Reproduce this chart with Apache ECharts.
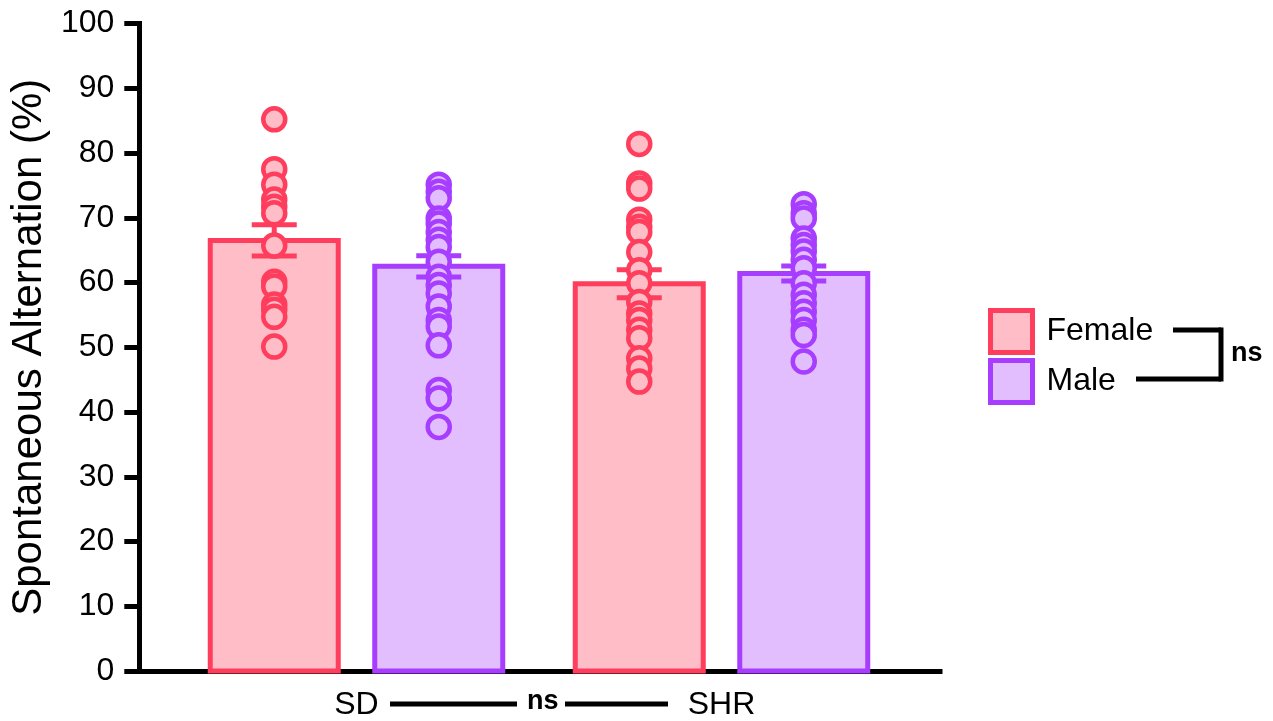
<!DOCTYPE html>
<html><head><meta charset="utf-8">
<script src="https://cdn.jsdelivr.net/npm/echarts@6/dist/echarts.min.js"></script>
<style>html,body{margin:0;padding:0;background:#fff}#c{width:1273px;height:721px}</style>
</head><body><div id="c"></div>
<script>
// ---- data ----
const categories = ['SD', 'SHR'];
const yTicks = [0, 10, 20, 30, 40, 50, 60, 70, 80, 90, 100];
const femaleMean = [66.5, 59.8];
const femaleSEM = [2.4, 2.15];
const maleMean = [62.5, 61.4];
const maleSEM = [1.65, 1.15];
const femaleSDPoints = [85.2, 77.5, 75.1, 72.8, 71.7, 70.7, 65.7, 60.1, 59.4, 56.6, 55.8, 54.7, 50.1];
const maleSDPoints = [75.1, 74.0, 73.0, 69.9, 69.1, 67.8, 66.6, 65.5, 63.2, 60.9, 59.6, 58.3, 56.3, 54.2, 53.2, 50.3, 43.4, 42.1, 37.7];
const femaleSHRPoints = [81.4, 75.3, 74.5, 69.7, 68.6, 67.8, 64.7, 61.9, 59.9, 57.0, 55.2, 54.2, 52.7, 51.4, 48.3, 46.7, 44.7];
const maleSHRPoints = [72.1, 70.7, 69.9, 66.8, 65.8, 64.8, 63.5, 62.2, 59.9, 58.1, 56.8, 55.5, 54.2, 52.7, 51.9, 47.8];

// ---- style ----
const F_STROKE = '#ff3d5c', F_FILL = '#ffbdc7';
const M_STROKE = '#a63dff', M_FILL = '#e3beff';
const BAR_W = 128, BAR_SPACING = 164.5;
const OFFSET = BAR_SPACING / 2;
const DOT_R = 11;
const FONT = '"Liberation Sans", Arial, sans-serif';

function barSeries(name, means, sign, stroke, fill) {
  return {
    type: 'custom', name: name, xAxisIndex: 0, yAxisIndex: 0, z: 2,
    itemStyle: { color: fill, borderColor: stroke, borderWidth: 5 },
    data: means.map((m, i) => [i, m]),
    renderItem: function (params, api) {
      const top = api.coord([api.value(0), api.value(1)]);
      const bot = api.coord([api.value(0), 0]);
      const xc = top[0] + sign * OFFSET;
      return { type: 'rect', shape: { x: xc - BAR_W / 2, y: top[1], width: BAR_W, height: bot[1] - top[1] },
        style: { fill: fill, stroke: stroke, lineWidth: 5 } };
    }
  };
}
function dotSeries(name, cat, vals, sign, stroke, fill) {
  return {
    type: 'custom', name: name, xAxisIndex: 0, yAxisIndex: 0, z: 5,
    data: vals.map(v => [cat, v]),
    renderItem: function (params, api) {
      const p = api.coord([api.value(0), api.value(1)]);
      return { type: 'circle', shape: { cx: p[0] + sign * OFFSET, cy: p[1], r: DOT_R },
        style: { fill: fill, stroke: stroke, lineWidth: 4.5 } };
    }
  };
}
function errSeries(name, means, sems, sign, stroke) {
  return {
    type: 'custom', name: name, xAxisIndex: 0, yAxisIndex: 0, z: 4,
    data: means.map((m, i) => [i, m, sems[i]]),
    renderItem: function (params, api) {
      const c = api.value(0), m = api.value(1), s = api.value(2);
      const hi = api.coord([c, m + s]), lo = api.coord([c, m - s]);
      const x = hi[0] + sign * OFFSET, hw = 22.5;
      const st = { stroke: stroke, lineWidth: 5 };
      return { type: 'group', children: [
        { type: 'line', shape: { x1: x, y1: hi[1], x2: x, y2: lo[1] }, style: st },
        { type: 'line', shape: { x1: x - hw, y1: hi[1], x2: x + hw, y2: hi[1] }, style: st },
        { type: 'line', shape: { x1: x - hw, y1: lo[1], x2: x + hw, y2: lo[1] }, style: st }
      ] };
    }
  };
}

const chart = echarts.init(document.getElementById('c'), null, { renderer: 'canvas' });
chart.setOption({
  animation: false,
  backgroundColor: '#fff',
  grid: [
    { left: 174, right: 369, top: 23.5, bottom: 50 },
    { left: 138.5, right: 333, top: 23.5, bottom: 50 }
  ],
  xAxis: [
    { type: 'category', gridIndex: 0, data: categories,
      axisLine: { show: false }, axisTick: { show: false },
      axisLabel: { color: '#000', fontSize: 32, fontFamily: FONT, margin: 18 } },
    { type: 'value', gridIndex: 1, min: 0, max: 1,
      axisLine: { show: true, lineStyle: { color: '#000', width: 5, cap: 'square' } },
      axisTick: { show: false }, axisLabel: { show: false }, splitLine: { show: false } }
  ],
  yAxis: [
    { type: 'value', gridIndex: 0, min: 0, max: 100, interval: 10, show: false },
    { type: 'value', gridIndex: 1, min: yTicks[0], max: yTicks[yTicks.length - 1], interval: 10,
      name: 'Spontaneous Alternation (%)', nameLocation: 'middle', nameGap: 86,
      nameTextStyle: { color: '#000', fontSize: 42, fontFamily: FONT },
      axisLine: { show: true, lineStyle: { color: '#000', width: 5, cap: 'square' } },
      axisTick: { show: true, length: 15, lineStyle: { color: '#000', width: 5 } },
      axisLabel: { color: '#000', fontSize: 32, fontFamily: FONT, margin: 25 },
      splitLine: { show: false } }
  ],
  legend: {
    orient: 'vertical', left: 983, top: 303, itemWidth: 42, itemHeight: 42, itemGap: 3,
    data: [
      { name: 'Female', icon: 'rect', itemStyle: { color: F_FILL, borderColor: F_STROKE, borderWidth: 5 } },
      { name: 'Male', icon: 'rect', itemStyle: { color: M_FILL, borderColor: M_STROKE, borderWidth: 5 } }
    ],
    textStyle: { color: '#000', fontSize: 32, fontFamily: FONT, padding: [0, 0, 0, 9] }
  },
  series: [
    barSeries('Female', femaleMean, -1, F_STROKE, F_FILL),
    barSeries('Male', maleMean, 1, M_STROKE, M_FILL),
    errSeries('Female SEM', femaleMean, femaleSEM, -1, F_STROKE),
    errSeries('Male SEM', maleMean, maleSEM, 1, M_STROKE),
    dotSeries('Female SD pts', 0, femaleSDPoints, -1, F_STROKE, F_FILL),
    dotSeries('Male SD pts', 0, maleSDPoints, 1, M_STROKE, M_FILL),
    dotSeries('Female SHR pts', 1, femaleSHRPoints, -1, F_STROKE, F_FILL),
    dotSeries('Male SHR pts', 1, maleSHRPoints, 1, M_STROKE, M_FILL)
  ],
  graphic: [
    { type: 'line', shape: { x1: 1173, y1: 330, x2: 1221, y2: 330 }, style: { stroke: '#000', lineWidth: 5 } },
    { type: 'line', shape: { x1: 1136, y1: 379, x2: 1221, y2: 379 }, style: { stroke: '#000', lineWidth: 5 } },
    { type: 'line', shape: { x1: 1221, y1: 327.5, x2: 1221, y2: 381.5 }, style: { stroke: '#000', lineWidth: 5 } },
    { type: 'text', left: 1231, top: 340, style: { text: 'ns', fill: '#000', font: 'bold 27px ' + FONT } },
    { type: 'line', shape: { x1: 390, y1: 704, x2: 517, y2: 704 }, style: { stroke: '#000', lineWidth: 5 } },
    { type: 'line', shape: { x1: 565, y1: 704, x2: 668, y2: 704 }, style: { stroke: '#000', lineWidth: 5 } },
    { type: 'text', left: 527, top: 688, style: { text: 'ns', fill: '#000', font: 'bold 27px ' + FONT } }
  ]
});
</script></body></html>
